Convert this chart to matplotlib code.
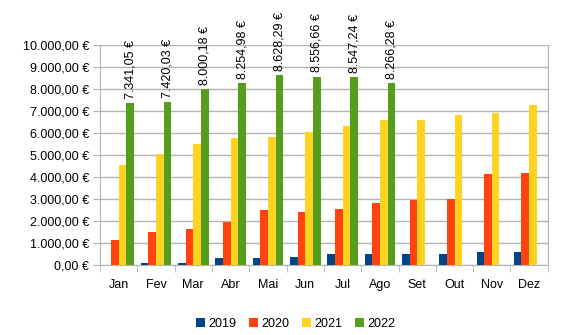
import matplotlib.pyplot as plt
import numpy as np
from matplotlib.ticker import FuncFormatter

plt.rcParams['font.family'] = ['Liberation Sans', 'DejaVu Sans']

meses = ['Jan', 'Fev', 'Mar', 'Abr', 'Mai', 'Jun', 'Jul', 'Ago', 'Set', 'Out', 'Nov', 'Dez']
v2019 = [0, 90, 90, 300, 300, 380, 500, 500, 500, 480, 600, 590]
v2020 = [1140, 1505, 1625, 1945, 2510, 2415, 2550, 2810, 2950, 3020, 4130, 4160]
v2021 = [4560, 5045, 5500, 5750, 5800, 6050, 6300, 6600, 6600, 6800, 6900, 7250]
v2022 = [7341.05, 7420.03, 8000.18, 8254.98, 8628.29, 8556.66, 8547.24, 8266.28]

series = [('2019', v2019, '#004586'), ('2020', v2020, '#ff420e'),
          ('2021', v2021, '#ffd320'), ('2022', v2022, '#579d1c')]


def euro(v, pos=None):
    s = f'{v:,.2f}'.replace(',', 'X').replace('.', ',').replace('X', '.')
    return s + ' €'


fig = plt.figure(figsize=(5.63, 3.35), dpi=100)
ax = fig.add_axes([0.1776, 0.209, 0.7954, 0.657])

x = np.arange(len(meses))
w = 0.205
for i, (nome, vals, cor) in enumerate(series):
    xs = x[:len(vals)] + (i - 1.5) * w
    bars = ax.bar(xs, vals, w, color=cor, label=nome, zorder=3)
    if nome == '2022':
        for b, v in zip(bars, vals):
            ax.annotate(euro(v), (b.get_x() + b.get_width() / 2, v),
                        xytext=(0, 3), textcoords='offset points',
                        rotation=90, ha='center', va='bottom', fontsize=9,
                        annotation_clip=False)

ax.set_xlim(-0.5, len(meses) - 0.5)
ax.set_ylim(0, 10000)
ax.set_yticks(np.arange(0, 10001, 1000))
ax.yaxis.set_major_formatter(FuncFormatter(euro))
ax.set_xticks(x)
ax.set_xticklabels(meses)
ax.set_xticks(np.arange(-0.5, len(meses)), minor=True)
ax.tick_params(axis='x', which='major', length=0, pad=10, labelsize=9)
ax.tick_params(axis='x', which='minor', length=5, color='#b3b3b3')
ax.tick_params(axis='y', length=5, color='#b3b3b3', labelsize=9, pad=3)
ax.grid(axis='y', color='#b3b3b3', linewidth=1, zorder=0)
for s in ['top']:
    ax.spines[s].set_visible(False)
for s in ['left', 'bottom', 'right']:
    ax.spines[s].set_color('#b3b3b3')

fig.legend(loc='lower center', bbox_to_anchor=(0.525, -0.018), ncol=4, frameon=False,
           fontsize=9, handlelength=0.7, handleheight=0.7, handletextpad=0.3,
           columnspacing=1.0)

fig.savefig('out.png', dpi=100)
